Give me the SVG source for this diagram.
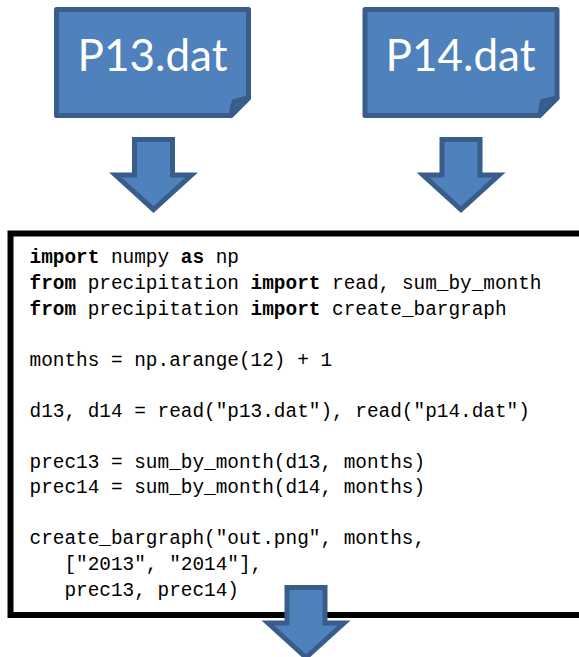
<svg xmlns="http://www.w3.org/2000/svg" width="579" height="657" viewBox="0 0 579 657">
<defs>
<style>
.doc,.arr{fill:#4f81bd;stroke:#385d8a;stroke-width:5}
.doc{stroke-linejoin:round}
.arr{stroke-linejoin:miter;stroke-miterlimit:10}
.fold{fill:#406895;stroke:#385d8a;stroke-width:5;stroke-linejoin:round}
.title{font-family:"Lato","Carlito","Liberation Sans",sans-serif;font-size:44px;fill:#fff;text-anchor:middle}
.code{font-family:"Liberation Mono","DejaVu Sans Mono",monospace;font-size:19.4px;fill:#000;white-space:pre}
.k{font-weight:bold}
</style>
<path id="arrow" d="M-19 0H19V35.500H38L0 70L-38 35.500H-19Z"/>
</defs>
<rect width="579" height="657" fill="#fff"/>
<g id="node-p13">
<path class="doc" d="M56.500 9.500H248.500V98L231 115.500H56.500Z"/>
<path class="fold" d="M231 115.500L234 101.500L248.500 98Z"/>
<text class="title" x="152.500" y="71">P13.dat</text>
</g>
<g id="node-p14">
<path class="doc" d="M365 9.500H557V98L539.500 115.500H365Z"/>
<path class="fold" d="M539.500 115.500L542.500 101.500L557 98Z"/>
<text class="title" x="460.500" y="71">P14.dat</text>
</g>
<g id="node-code">
<path d="M581 233.500H10.500V615H581" fill="#fff" stroke="#000" stroke-width="6"/>
<text class="code" x="29.500" y="263"><tspan class="k">import</tspan> numpy <tspan class="k">as</tspan> np</text>
<text class="code" x="29.500" y="289"><tspan class="k">from</tspan> precipitation <tspan class="k">import</tspan> read, sum_by_month</text>
<text class="code" x="29.500" y="314.500"><tspan class="k">from</tspan> precipitation <tspan class="k">import</tspan> create_bargraph</text>
<text class="code" x="29.500" y="365.500">months = np.arange(12) + 1</text>
<text class="code" x="29.500" y="416.500">d13, d14 = read("p13.dat"), read("p14.dat")</text>
<text class="code" x="29.500" y="467.500">prec13 = sum_by_month(d13, months)</text>
<text class="code" x="29.500" y="493">prec14 = sum_by_month(d14, months)</text>
<text class="code" x="29.500" y="544">create_bargraph("out.png", months,</text>
<text class="code" x="29.500" y="570">   ["2013", "2014"],</text>
<text class="code" x="29.500" y="596">   prec13, prec14)</text>
</g>
<g id="connectors">
<use href="#arrow" class="arr" x="153.500" y="139.500"/>
<use href="#arrow" class="arr" x="461" y="139.500"/>
<use href="#arrow" class="arr" x="306" y="587.500"/>
</g>
</svg>
